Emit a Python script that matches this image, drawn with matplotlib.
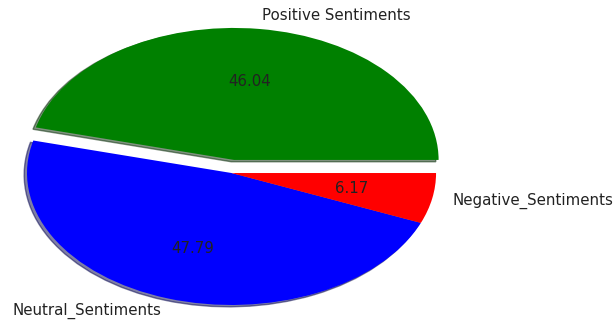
import matplotlib
matplotlib.use("Agg")
import matplotlib.pyplot as plt

labels = ["Positive Sentiments", "Neutral_Sentiments", "Negative_Sentiments"]
values = [46.04, 47.79, 6.17]
colors = ["green", "blue", "red"]
explode = [0.1, 0, 0]

fig = plt.figure(figsize=(6.14, 3.24), dpi=100)
ax = fig.add_axes([0, 0, 1, 1])
ax.pie(values, labels=labels, colors=colors, explode=explode,
       autopct="%.2f", shadow={"ox": -0.01, "oy": -0.01},
       textprops={"fontsize": 10.8, "color": "#222222"})
ax.set_aspect("auto")
ax.set_xlim(-1.132, 1.870)
ax.set_ylim(-1.144, 1.311)
ax.axis("off")
fig.savefig("out.png", dpi=100)
